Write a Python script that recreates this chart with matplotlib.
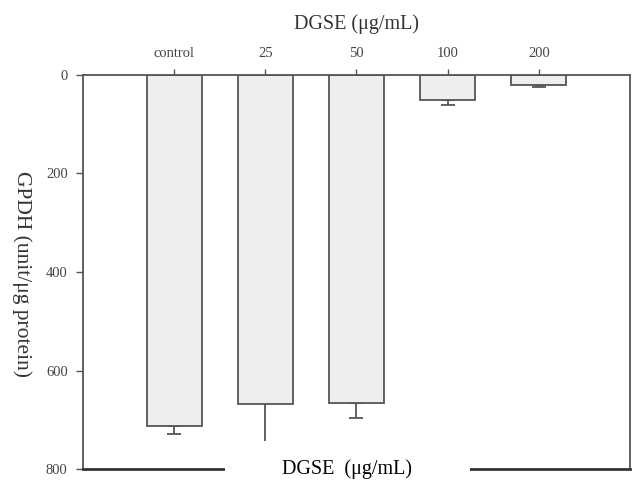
import numpy as np
import matplotlib
matplotlib.use('Agg')
from matplotlib import pyplot as plt
from matplotlib.patches import Rectangle

groups = ['control', '25', '50', '100', '200']
gpdh = [713, 669, 665, 51, 20]
gpdh_err = [16, 75, 32, 10, 4]
y_ticks = [0, 200, 400, 600, 800]

plt.rcParams['font.family'] = ['Liberation Serif', 'DejaVu Serif']
edge = '#555555'

fig = plt.figure(figsize=(6.35, 4.8), dpi=100)
ax = fig.add_axes([0.1307, 0.0229, 0.8614, 0.8209])

x = np.arange(1, len(groups) + 1)
ax.bar(x, gpdh, width=0.6, color='#eeeeee', edgecolor=edge, linewidth=1.3, zorder=2)
# one-sided (downward) error bars
caps = [5, 0, 5, 5, 5]
for xi, v, e, c in zip(x, gpdh, gpdh_err, caps):
    ax.errorbar(xi, v, yerr=[[0], [e]], fmt='none', ecolor=edge, elinewidth=1.3,
                capsize=c, capthick=1.3, zorder=1)

ax.set_xlim(0, 6)
ax.set_ylim(800, 0)
ax.set_yticks(y_ticks)
ax.set_yticklabels([str(t) for t in y_ticks], fontsize=10.5, color='#444444')
ax.set_xticks(x)
ax.set_xticklabels(groups, fontsize=10.5, color='#444444')
ax.xaxis.tick_top()
ax.tick_params(axis='x', direction='out', length=4, width=1, colors=edge, labelcolor='#444444', pad=7)
ax.tick_params(axis='y', direction='out', length=5, width=1, colors=edge, labelcolor='#444444', pad=6)
for s in ['left', 'right', 'top']:
    ax.spines[s].set_color(edge)
    ax.spines[s].set_linewidth(1.3)
ax.spines['bottom'].set_color('#333333')
ax.spines['bottom'].set_linewidth(2)

ax.set_xlabel('DGSE (μg/mL)', fontsize=14.5, color='#333333', labelpad=13)
ax.xaxis.set_label_position('top')
ax.set_ylabel('GPDH (unit/μg protein)', fontsize=15.5, color='#333333', rotation=270,
              va='center')
ax.yaxis.set_label_coords(-0.1115, 0.495)

# white gap in the bottom axis under the label
ax.add_patch(Rectangle((0.26, -0.02), 0.447, 0.04, transform=ax.transAxes,
                       facecolor='white', edgecolor='none', clip_on=False, zorder=5))
ax.text(0.483, 0.0, 'DGSE  (μg/mL)', transform=ax.transAxes, ha='center', va='center',
        fontsize=14.5, color='black', zorder=6)

fig.savefig('out.png', dpi=100)
